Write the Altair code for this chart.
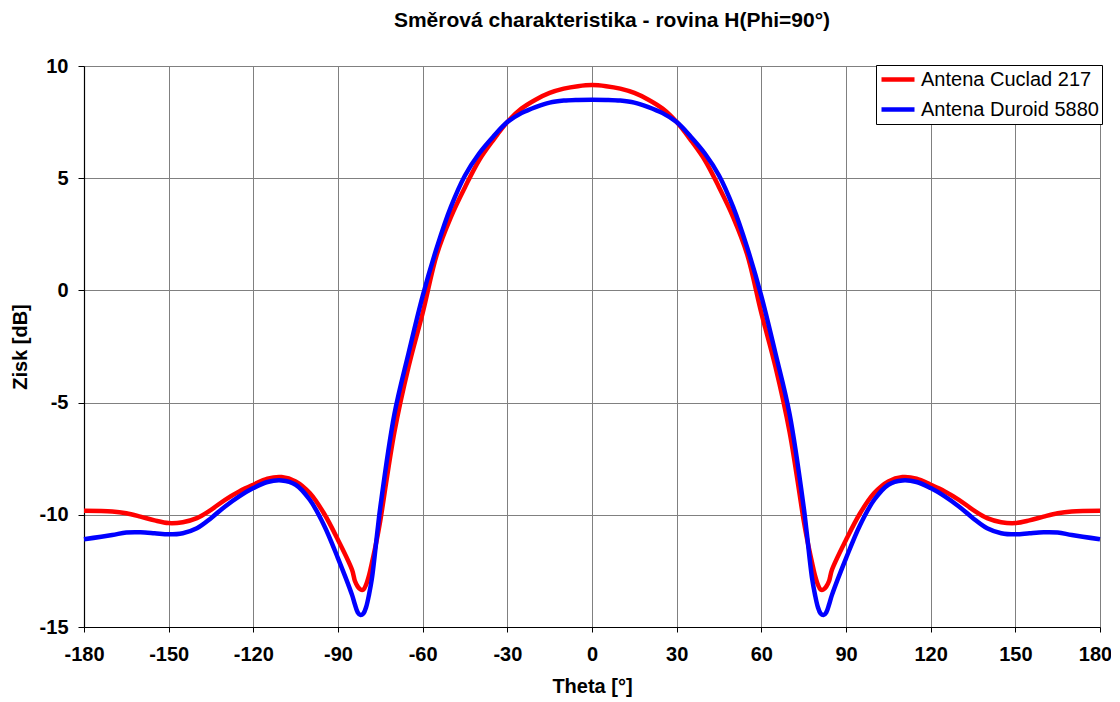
import altair as alt
import pandas as pd

theta = [-180, -170, -165, -160, -155, -150, -145, -140, -135, -130, -125, -120,
         -115, -110, -105, -100, -95, -90, -85, -84, -83, -82, -81, -80, -79, -78, -76, -75,
         -70, -65, -60, -55, -50, -45, -40, -35, -30, -25, -20, -15, -10, -5, 0,
         5, 10, 15, 20, 25, 30, 35, 40, 45, 50, 55, 60, 65, 70,
         75, 76, 78, 79, 80, 81, 82, 83, 84, 85,
         90, 95, 100, 105, 110, 115, 120, 125, 130, 135, 140, 145, 150, 155,
         160, 165, 170, 180]

cuclad = [-9.82, -9.85, -9.93, -10.08, -10.25, -10.37, -10.33, -10.15, -9.78, -9.33, -8.96, -8.66,
          -8.39, -8.32, -8.51, -9.03, -9.93, -11.12, -12.46, -12.95, -13.2, -13.33, -13.33, -13.1, -12.7, -12.15, -10.95, -10.25,
          -6.3, -3.4, -1.0, 1.6, 3.27, 4.6, 5.8, 6.7, 7.5, 8.1, 8.5, 8.8, 8.99, 9.1, 9.15,
          9.1, 8.99, 8.8, 8.5, 8.1, 7.5, 6.7, 5.8, 4.6, 3.27, 1.6, -1.0, -3.4, -6.3,
          -10.25, -10.95, -12.15, -12.7, -13.1, -13.33, -13.33, -13.2, -12.95, -12.46,
          -11.12, -9.93, -9.03, -8.51, -8.32, -8.39, -8.66, -8.96, -9.33, -9.78, -10.15, -10.33, -10.37, -10.25,
          -10.08, -9.93, -9.85, -9.82]

duroid = [-11.09, -10.9, -10.79, -10.78, -10.82, -10.87, -10.82, -10.6, -10.15, -9.63, -9.18, -8.81,
          -8.54, -8.47, -8.66, -9.33, -10.45, -11.94, -13.58, -14.0, -14.35, -14.47, -14.4, -14.1, -13.55, -12.85, -10.7, -9.65,
          -5.5, -2.8, -0.25, 1.9, 3.72, 5.12, 6.1, 6.85, 7.5, 7.9, 8.17, 8.37, 8.46, 8.49, 8.5,
          8.49, 8.46, 8.37, 8.17, 7.9, 7.5, 6.85, 6.1, 5.12, 3.72, 1.9, -0.25, -2.8, -5.5,
          -9.65, -10.7, -12.85, -13.55, -14.1, -14.4, -14.47, -14.35, -14.0, -13.58,
          -11.94, -10.45, -9.33, -8.66, -8.47, -8.54, -8.81, -9.18, -9.63, -10.15, -10.6, -10.82, -10.87, -10.82,
          -10.78, -10.79, -10.9, -11.09]

series_names = ["Antena Cuclad 217", "Antena Duroid 5880"]
series_colors = ["#FF0000", "#0000FF"]
x_ticks = [-180, -150, -120, -90, -60, -30, 0, 30, 60, 90, 120, 150, 180]
y_ticks = [-15, -10, -5, 0, 5, 10]

df = pd.concat([
    pd.DataFrame({"theta": theta, "gain": cuclad, "series": series_names[0]}),
    pd.DataFrame({"theta": theta, "gain": duroid, "series": series_names[1]}),
])

FONT = "Liberation Sans"
axis_common = dict(
    labelFontSize=20, labelFontWeight="bold", titleFontSize=20, titleFontWeight="bold",
    labelFont=FONT, titleFont=FONT, labelColor="black", titleColor="black",
    grid=True, gridColor="#808080", gridWidth=1, gridOpacity=1,
    domainColor="black", domainWidth=1.2, tickColor="black", tickWidth=1,
    labelExpr="datum.value + ''", labelFlush=False, labelOverlap=False,
)

chart = alt.Chart(df).mark_line(strokeWidth=4.5, interpolate="catmull-rom").encode(
    x=alt.X("theta:Q",
            scale=alt.Scale(domain=[-180, 180], nice=False),
            axis=alt.Axis(values=x_ticks, title="Theta [°]", labelPadding=12,
                          titlePadding=12, tickSize=5,
                          labelOffset={"condition": {"test": "datum.value == 180", "value": -5},
                                       "value": 0},
                          **axis_common)),
    y=alt.Y("gain:Q",
            scale=alt.Scale(domain=[-15, 10], nice=False),
            axis=alt.Axis(values=y_ticks, title="Zisk [dB]", labelPadding=10,
                          titlePadding=9, tickSize=6, **axis_common)),
    color=alt.Color("series:N",
                    scale=alt.Scale(domain=series_names, range=series_colors),
                    legend=alt.Legend(title=None, orient="none", legendX=792, legendY=-1,
                                      direction="vertical", strokeColor="black",
                                      fillColor="white", padding=3, symbolType="stroke",
                                      symbolSize=1089, symbolStrokeWidth=4.5,
                                      labelFontSize=20, labelOffset=4, rowPadding=7,
                                      clipHeight=23, labelColor="black", labelFont=FONT,
                                      labelLimit=300)),
).properties(
    width=1016,
    height=561,
    title=alt.TitleParams("Směrová charakteristika - rovina H(Phi=90°)", fontSize=21,
                          fontWeight="bold", font=FONT, anchor="middle", dx=20, offset=25,
                          color="black"),
    autosize=alt.AutoSizeParams(type="none"),
    padding={"left": 76, "top": 58, "right": 11, "bottom": 72},
).configure_view(
    stroke="#808080", strokeWidth=1,
).configure(background="white")

chart.save("out.html", embed_options={"renderer": "svg", "actions": False})
